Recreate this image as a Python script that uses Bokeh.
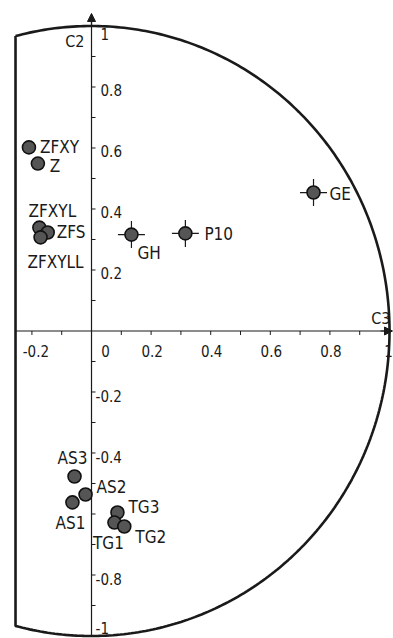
import numpy as np
from bokeh.plotting import figure
from bokeh.models import ColumnDataSource, Arrow, NormalHead, Range1d
from bokeh.core.properties import value
from bokeh.embed import file_html
from bokeh.resources import INLINE

# ---- data ----
names = ["ZFXY", "Z", "ZFXYL", "ZFS", "ZFXYLL", "GH", "P10", "GE",
         "AS3", "AS2", "AS1", "TG3", "TG1", "TG2"]
c3 = [-0.21, -0.18, -0.175, -0.147, -0.171, 0.134, 0.315, 0.745,
      -0.057, -0.02, -0.064, 0.087, 0.077, 0.11]
c2 = [0.602, 0.549, 0.339, 0.323, 0.307, 0.316, 0.32, 0.454,
      -0.477, -0.536, -0.562, -0.595, -0.628, -0.641]
crossed = ["GH", "P10", "GE"]

x_tick_values = [-0.2, 0, 0.2, 0.4, 0.6, 0.8, 1]
x_tick_labels = ["-0.2", "0", "0.2", "0.4", "0.6", "0.8", "1"]
y_tick_values = [1, 0.8, 0.6, 0.4, 0.2, -0.2, -0.4, -0.8, -1]
y_tick_labels = ["1", "0.8", "0.6", "0.4", "0.2", "-0.2", "-0.4", "-0.8", "-1"]
x_minor = [-0.2, -0.1, 0.1, 0.2, 0.3, 0.4, 0.5, 0.6, 0.7, 0.8, 0.9]
y_minor = [-1, -0.9, -0.8, -0.7, -0.6, -0.5, -0.4, -0.3, -0.2, -0.1,
           0.1, 0.2, 0.3, 0.4, 0.5, 0.6, 0.7, 0.8, 0.9, 1]
left_edge = -0.255

# ---- styles ----
FONT = value("DejaVu Sans Condensed")
INK = "#1a1a1a"
label_style = {  # dx, dy (px), align
    "ZFXY": (11, 0, "left"), "Z": (12, 2, "left"), "ZFXYL": (13, -17, "center"),
    "ZFS": (9, 0, "left"), "ZFXYLL": (15, 25, "center"), "GH": (6, 18, "left"),
    "P10": (19, 1, "left"), "GE": (16, 1, "left"), "AS3": (-2, -18, "center"),
    "AS2": (11, -7, "left"), "AS1": (-2, 21, "center"), "TG3": (11, -5, "left"),
    "TG1": (-6, 20, "center"), "TG2": (11, 10, "left"),
}

p = figure(width=393, height=638, x_range=Range1d(-0.3054, 1.0134),
           y_range=Range1d(-1.0082, 1.0836), x_axis_type=None, y_axis_type=None,
           output_backend="svg", toolbar_location=None, min_border=0)
p.grid.visible = False
p.outline_line_color = None

# frame: unit circle arc + left edge
a0 = np.arccos(left_edge)
theta = np.linspace(a0, -a0, 300)
fx = list(np.cos(theta)) + [np.cos(a0)]
fy = list(np.sin(theta)) + [np.sin(a0)]
p.line(fx, fy, line_color=INK, line_width=2.6)

# axes
p.segment(x0=[left_edge, 0], y0=[0, -1], x1=[0.99, 0], y1=[0, 1.02],
          line_color=INK, line_width=1.2)
p.add_layout(Arrow(end=NormalHead(size=8, fill_color=INK, line_color=INK),
                   x_start=0.97, y_start=0, x_end=1.01, y_end=0,
                   line_color=INK, line_width=1.2))
p.add_layout(Arrow(end=NormalHead(size=8, fill_color=INK, line_color=INK),
                   x_start=0, y_start=1.0, x_end=0, y_end=1.041,
                   line_color=INK, line_width=1.2))

# ticks
tx = 4 / 298.0
ty = 4 / 305.0
p.segment(x0=x_minor, y0=[0] * len(x_minor), x1=x_minor, y1=[-ty] * len(x_minor),
          line_color=INK, line_width=1)
p.segment(x0=[0] * len(y_minor), y0=y_minor, x1=[tx] * len(y_minor), y1=y_minor,
          line_color=INK, line_width=1)

# tick labels
xdx = [4 if v < 0 else (14 if v == 0 else (-1 if v == 1 else 1)) for v in x_tick_values]
p.text(x=x_tick_values, y=[0] * len(x_tick_values), text=x_tick_labels,
       x_offset=xdx, y_offset=20, text_align="center", text_baseline="middle",
       text_font=FONT, text_font_size="15px", text_color=INK)
ydx = [4 if v < 0 else 9 for v in y_tick_values]
ydy = [8 if v == 1 else (-8 if v == -1 else (4 if v < 0 else 3)) for v in y_tick_values]
p.text(x=[0] * len(y_tick_values), y=y_tick_values, text=y_tick_labels,
       x_offset=ydx, y_offset=ydy, text_align="left", text_baseline="middle",
       text_font=FONT, text_font_size="15px", text_color=INK)

# axis titles
p.text(x=[0], y=[0.95], text=["C2"], x_offset=-7, text_align="right",
       text_baseline="middle", text_font=FONT, text_font_size="16px", text_color=INK)
p.text(x=[1.0], y=[0], text=["C3"], x_offset=1, y_offset=-12, text_align="right",
       text_baseline="middle", text_font=FONT, text_font_size="16px", text_color=INK)

# points
cx = [x for x, n in zip(c3, names) if n in crossed]
cy = [y for y, n in zip(c2, names) if n in crossed]
p.scatter(cx, cy, marker="cross", size=27, line_color=INK, line_width=1.2)
src = ColumnDataSource(dict(x=c3, y=c2, name=names,
                            dx=[label_style[n][0] for n in names],
                            dy=[label_style[n][1] for n in names],
                            al=[label_style[n][2] for n in names]))
p.scatter("x", "y", source=src, size=13, fill_color="#555555",
          line_color="#111111", line_width=1.6)
p.text("x", "y", text="name", source=src, x_offset="dx", y_offset="dy",
       text_align="al", text_baseline="middle", text_font=FONT,
       text_font_size="17px", text_color=INK)

open("out.html", "w").write(file_html(p, INLINE))
